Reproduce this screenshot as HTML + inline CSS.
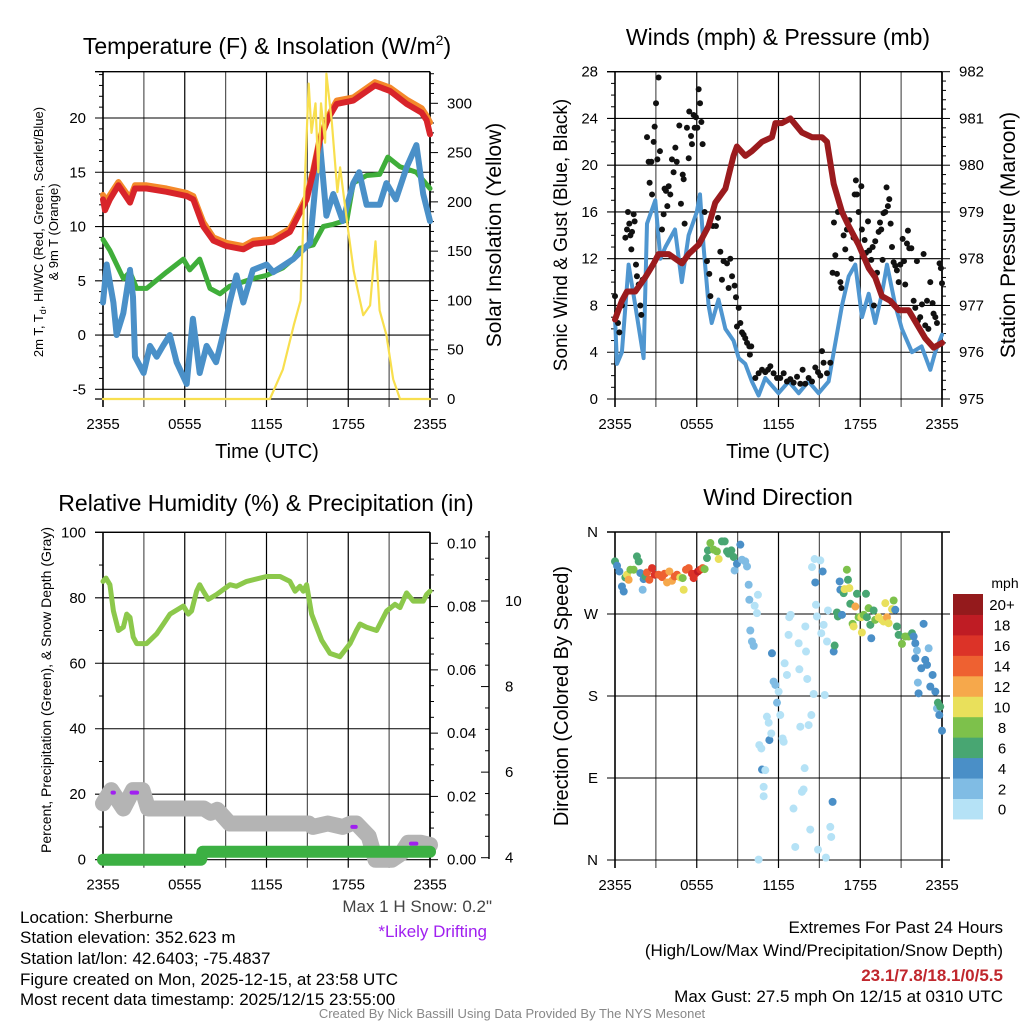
<!DOCTYPE html>
<html><head><meta charset="utf-8">
<style>
html,body{margin:0;padding:0;background:#fff;}
svg{display:block;font-family:"Liberation Sans",sans-serif;}
</style></head>
<body>
<svg id="chart" width="1024" height="1024" viewBox="0 0 1024 1024" xmlns="http://www.w3.org/2000/svg">
<rect width="1024" height="1024" fill="#fff"/>
<g id="g"></g>
<!-- titles -->
<text x="267" y="54" font-size="23" text-anchor="middle">Temperature (F) &amp; Insolation (W/m<tspan font-size="14" dy="-9">2</tspan><tspan dy="9">)</tspan></text>
<text x="778" y="45" font-size="23" text-anchor="middle">Winds (mph) &amp; Pressure (mb)</text>
<text x="266" y="511" font-size="23" text-anchor="middle">Relative Humidity (%) &amp; Precipitation (in)</text>
<text x="778" y="505" font-size="23" text-anchor="middle">Wind Direction</text>
<!-- axis titles -->
<text x="267" y="458" font-size="20" text-anchor="middle">Time (UTC)</text>
<text x="778" y="458" font-size="20" text-anchor="middle">Time (UTC)</text>
<text transform="translate(43,232) rotate(-90)" font-size="13" text-anchor="middle">2m T, T<tspan font-size="9" dy="3">d</tspan><tspan dy="-3">, HI/WC (Red, Green, Scarlet/Blue)</tspan></text>
<text transform="translate(58,232) rotate(-90)" font-size="13" text-anchor="middle">&amp; 9m T (Orange)</text>
<text transform="translate(501,235) rotate(-90)" font-size="21" text-anchor="middle">Solar Insolation (Yellow)</text>
<text transform="translate(567,235) rotate(-90)" font-size="19" text-anchor="middle">Sonic Wind &amp; Gust (Blue, Black)</text>
<text transform="translate(1015,235) rotate(-90)" font-size="21" text-anchor="middle">Station Pressure (Maroon)</text>
<text transform="translate(51,690) rotate(-90)" font-size="14" text-anchor="middle">Percent, Precipitation (Green), &amp; Snow Depth (Gray)</text>
<text transform="translate(568,696) rotate(-90)" font-size="20" text-anchor="middle">Direction (Colored By Speed)</text>
<!-- footer -->
<g font-size="17">
<text x="20" y="923">Location: Sherburne</text>
<text x="20" y="943">Station elevation: 352.623 m</text>
<text x="20" y="964">Station lat/lon: 42.6403; -75.4837</text>
<text x="20" y="985">Figure created on Mon, 2025-12-15, at 23:58 UTC</text>
<text x="20" y="1005">Most recent data timestamp: 2025/12/15 23:55:00</text>
</g>
<text x="492" y="912" font-size="17" fill="#444" text-anchor="end">Max 1 H Snow: 0.2"</text>
<text x="487" y="937" font-size="17" fill="#a020f0" text-anchor="end">*Likely Drifting</text>
<g font-size="17" text-anchor="end">
<text x="1003" y="933">Extremes For Past 24 Hours</text>
<text x="1003" y="956">(High/Low/Max Wind/Precipitation/Snow Depth)</text>
<text x="1003" y="981" fill="#c0272d" font-weight="bold">23.1/7.8/18.1/0/5.5</text>
<text x="1003" y="1002">Max Gust: 27.5 mph On 12/15 at 0310 UTC</text>
</g>
<text x="512" y="1018" font-size="13" fill="#888" text-anchor="middle">Created By Nick Bassill Using Data Provided By The NYS Mesonet</text>
</svg>
<script>
// ---------- data ----------
const xTickLabels = ["2355","0555","1155","1755","2355"];
const tempTicks = [-5,0,5,10,15,20];
const solarTicks = [0,50,100,150,200,250,300];
const windTicks = [0,4,8,12,16,20,24,28];
const presTicks = [975,976,977,978,979,980,981,982];
const rhTicks = [0,20,40,60,80,100];
const precipTicks = [0,0.02,0.04,0.06,0.08,0.10];
const snowTicks = [4,6,8,10];
const dirTicks = ["N","E","S","W","N"];

const redT = [0,.15,.51,1.13,1.98,2.35,3.2,4.67,6.14,6.63,7.36,8.1,9.05,10.3,11.03,12.5,13.72,14.46,14.94,15.43,15.92,16.54,17.15,18.37,19.96,21.06,22.28,23.38,23.75,24];
const redV = [12.5,11.5,12.5,13.8,12.2,13.5,13.5,13.2,12.8,12.5,10,8.7,8.2,7.9,8.4,8.6,9.5,11.3,12.5,15,18,20,21.3,21.6,23,22.5,21.3,20.5,19.8,18.5];
const orangeV = [12.9,12.3,12.9,14.1,12.6,13.8,13.8,13.5,13.1,12.8,10.4,9.0,8.5,8.2,8.7,8.9,9.8,11.6,12.8,15.2,18.2,20.2,21.6,21.9,23.3,22.8,21.7,20.9,20.2,19.6];
const greenT = [0,.51,1.5,1.98,2.47,3.2,4.67,5.9,6.36,7.1,7.85,8.59,9.3,11,12,13.2,13.96,14.46,15.43,16.17,16.9,17.9,18.37,19.35,20.3,20.9,21.8,23,24];
const greenV = [8.8,7.8,5.2,5.8,4.3,4.3,5.8,7,6,7,4.3,3.8,4.5,5.2,5.5,6.2,7,8,8.3,10,10.2,10.6,14,14.7,14.8,16.4,15.5,15,13.5];
const wcT = [0,.27,.76,1,1.49,1.98,2.2,2.35,2.98,3.45,3.94,4.4,4.9,5.4,6.14,6.6,7.1,7.6,8.3,8.8,9.3,9.8,10.3,11,12,12.5,13.96,15.2,15.9,16.4,16.9,17.6,18.37,18.8,19.35,20.3,20.8,21.5,22.3,23,23.5,24];
const wcV = [3,6.5,3,0,2,6,3.5,-2,-3.5,-1,-2,-1,0,-2.5,-4.5,1.5,-3.5,-1,-2.5,0,3,5.5,3,6,6.5,5.8,7,8.5,18,11,13,10.5,14,15,12,12,14,12.5,15.5,17.5,13,10.5];
const solarT = [0,12.25,13.2,14,14.5,14.75,15.1,15.3,15.6,15.8,16,16.3,16.4,16.8,17.2,17.4,18,18.4,18.7,19.1,19.6,20,20.3,20.8,21.3,21.8,24];
const solarV = [0,0,30,75,100,200,320,270,300,230,300,260,330,280,210,235,170,130,110,85,95,160,90,65,20,0,0];

const presT = [0,.51,.88,1.49,2.22,2.84,3.2,3.94,4.92,5.4,6.14,6.87,7.36,8.1,8.7,8.95,9.56,10.05,10.79,11.52,11.77,12.25,12.87,13.72,14.46,15.19,15.56,16.05,16.66,17.15,17.88,18.62,19.1,19.59,20.2,20.82,21.55,22.16,22.77,23.38,24];
const presV = [976.7,977.1,977.3,977.3,977.6,977.9,978.1,978.1,977.9,978.1,978.3,978.7,979.2,979.5,980.2,980.4,980.2,980.3,980.5,980.6,980.9,980.9,981.0,980.7,980.6,980.6,980.5,979.6,979.0,978.7,978.3,977.8,977.6,977.2,977.1,976.9,976.9,976.6,976.3,976.1,976.2];
const sonicT = [0,.15,.51,1,1.49,2.1,2.35,2.96,3.33,3.7,4.4,4.9,5.4,6,6.24,6.5,6.87,7.1,7.6,8.1,8.7,9.08,9.56,10.05,10.54,11.03,12,12.75,13.48,14.2,14.94,15.68,16.05,16.66,17.15,17.64,18.13,18.62,19.1,19.59,19.96,20.57,21.06,21.8,22.5,23.14,23.5,24];
const sonicV = [7,3,4,11.5,8,3.5,15,17,12,13,14.5,10,14,16,17.5,13,8,6.5,8.5,6,5,3.5,3,1.5,.3,1.8,.5,1.5,.5,1.5,.5,1.5,4,8,10.5,11.5,7,9,6.5,9,11.5,8,6,4,4.5,2.5,4,5.5];
const gustT = [0,.15,.22,.32,.51,.76,.88,.95,1.05,1.13,1.2,1.25,1.37,1.44,1.54,1.61,1.74,1.86,1.93,2.03,2.35,2.47,2.54,2.67,2.72,2.84,2.91,3.01,3.11,3.2,3.3,3.45,3.57,3.64,3.74,3.84,3.94,4.06,4.18,4.3,4.43,4.53,4.72,4.84,4.97,5.04,5.11,5.28,5.41,5.45,5.58,5.65,5.77,5.85,5.94,6.04,6.14,6.24,6.34,6.43,6.58,6.75,6.92,7.0,7.19,7.41,7.56,7.73,7.85,7.97,8.22,8.34,8.46,8.59,8.78,8.88,8.95,9.08,9.2,9.32,9.44,9.56,9.69,9.86,10.0,9.9,10.3,10.54,10.79,11.03,11.23,11.4,11.64,11.89,12.13,12.38,12.62,12.87,13.11,13.36,13.6,13.77,13.96,14.21,14.46,14.7,14.9,15.07,15.19,15.31,15.56,15.8,15.97,16.07,16.17,16.29,16.36,16.54,16.61,16.78,16.9,17.02,17.2,17.34,17.51,17.59,17.68,17.76,17.88,18.08,18.12,18.32,18.42,18.57,18.66,18.81,18.91,19.0,19.1,19.23,19.35,19.45,19.54,19.64,19.71,19.84,19.93,20.03,20.13,20.23,20.33,20.45,20.57,20.69,20.82,20.94,21.11,21.21,21.3,21.43,21.5,21.6,21.75,21.92,22.04,22.16,22.23,22.4,22.53,22.65,22.77,22.9,23.0,23.14,23.31,23.38,23.51,23.63,23.82,23.92,24.0];
const gustV = [8.8,7.5,6.5,5.7,8,13.8,14.5,16,15,14,12.8,14.3,15.8,15.2,11.5,10.5,9.8,8,7.2,10.2,22.4,20.3,18.5,20.3,17.5,22,23.3,25.3,20.5,27.5,21.2,14.5,15.8,18,17.8,16.5,18.2,17.5,20.5,19.4,21.5,20.3,23.4,16.7,19.2,18.8,15,23.2,20.6,24.6,22.5,21.8,24.3,23.2,24.1,23.2,26.5,25.3,23.7,21.8,16,11.8,10.7,8.8,14.8,14.8,15.5,12.6,10.2,11.8,11.6,9.5,12,10.5,9.7,8.7,6.2,7.8,6.5,5.7,5.5,5.2,4.8,4.5,4.5,3.8,1.8,2.2,2.5,2.3,2.5,2.8,2.2,1.8,1.8,2.2,1.5,1.7,1.4,1.9,1.3,2.5,1.3,1.8,1.5,2.7,2.3,2,4.1,3.1,2.2,3.1,10.8,15.1,12.3,10.7,16,10,9.5,14,12.8,14.5,15.3,12,13.8,17.5,18.7,17.5,16,18.2,14.5,13.6,12.5,15.2,12.7,11.9,13,8,13.5,10.8,14.3,15.1,14.5,11.9,15.9,16,18.1,16.5,17.1,15,13,11.7,11.4,11,10,11.5,13.7,11.8,9.8,13.3,14.4,12.9,12.9,8.4,7.8,11.8,6.7,7,8.1,12.4,6.3,8.4,6,10,8.2,7.3,7,6.5,11.6,11.2,9.9];

const rhT = [0,.22,.51,.76,1.13,1.49,1.74,1.98,2.22,2.47,3.2,3.94,4.43,4.92,5.9,6.26,6.5,6.87,7.1,7.36,7.73,8.34,9.32,9.8,10.54,12,13,13.72,14.1,14.46,14.7,14.94,15.31,15.68,16.05,16.66,17.39,18.13,18.6,18.86,19.35,20.08,20.82,21.43,21.8,22.28,22.77,23.51,23.75,24];
const rhV = [85,86,84,76,70,71,75,74,68,66,66,69,72,75,77.5,75,76,82,84,82,79.5,81,84,83.5,85,86.5,86.5,85,82,83.5,82,84,75,71,67,63,62,66,70,72,71,70,76,78,77,81.5,79,79,81,82];
const snowT = [0,.6,1.5,2.2,2.9,3.3,7.4,7.9,8.4,9.3,15.1,15.4,16.5,17.6,18.2,18.6,19.5,20.0,21.2,21.9,22.4,23.3,24];
const snowV = [5.27,5.58,5.15,5.58,5.58,5.15,5.15,5.05,5.12,4.8,4.8,4.72,4.8,4.72,4.8,4.8,4.5,3.95,3.95,4.1,4.35,4.35,4.3];
const driftStart = [.7,2.1,18.3,22.6];
const driftEnd = [.8,2.5,18.55,23.0];
const driftV = [5.52,5.52,4.72,4.33];
const precipT = [0,7.2,7.3,24];
const precipV = [0,0,0.0025,0.0025];

const dirT = [0,.15,.32,.51,.64,.76,.88,1,1.13,1.37,1.61,1.74,1.86,2.03,2.1,2.23,2.35,2.52,2.72,2.91,3.2,3.45,3.64,3.82,3.99,4.18,4.38,4.55,4.79,4.97,5.04,5.21,5.41,5.65,5.77,5.89,6.09,6.26,6.43,6.58,6.75,6.82,7,7.24,7.48,7.61,7.85,8.05,8.22,8.34,8.54,8.71,8.78,8.95,9.2,9.32,9.56,9.69,9.81,9.86,9.93,10.05,10.18,10.25,10.42,10.49,10.54,10.59,10.74,10.79,10.91,10.91,11.03,11.15,11.28,11.33,11.47,11.52,11.64,11.77,11.89,12.01,12.13,12.3,12.38,12.45,12.62,12.79,12.89,12.74,13.1,13.23,13.48,13.53,13.6,13.72,13.84,13.92,14.02,13.97,14.11,14.21,14.33,14.41,14.46,14.58,14.65,14.7,14.75,14.82,14.9,15.07,15.14,15.24,15.31,15.39,15.48,15.56,15.63,15.8,15.87,15.97,16.05,16.12,16.29,16.36,16.49,16.54,16.66,16.78,16.85,17.02,17.1,17.2,17.27,17.44,17.51,17.64,17.76,17.88,18.08,18.12,18.25,18.42,18.49,18.61,18.74,18.81,18.98,19.1,19.35,19.59,19.71,19.84,19.96,20.08,20.33,20.45,20.57,20.69,20.82,21.06,21.3,21.55,21.8,21.92,22.04,22.16,22.04,22.23,22.28,22.48,22.65,22.77,22.9,23.02,23.14,23.31,23.51,23.63,23.7,23.8,23.87,24];
const dirV = [327.7,323,316.7,300.2,294.7,310.1,313.1,307.6,318.6,318.6,333.2,327.7,314.9,296.6,308.3,311.2,315.6,307.6,320.4,313.1,313.1,310.5,314.2,304.6,316.7,306.5,311.2,313.1,310.1,309.4,296.6,318.6,320.4,314.2,309.4,314.2,316.7,318.6,320.4,319.3,331.4,339.8,347.9,340.6,338.7,330.3,349.7,349.7,338.7,336.2,339.8,332.5,317.8,325.2,346.1,329.6,327.7,322.2,302.1,285.6,251.9,239.8,235,279,270.9,291.1,0.4,126.1,122.4,99.3,80.3,70,98.6,157.3,150.7,131.6,138.9,226.9,195.8,192.1,172.7,184.8,159.1,133.4,129.8,215.9,203.1,266.5,269.1,247.1,56.5,14.3,237.9,209.3,146.3,74.8,77.4,100.8,228.8,256.3,198.7,148.1,33.4,159.1,321.5,182.2,330.3,304.6,280.1,267.3,11.4,328.8,248.9,316.7,258.1,181.1,2.6,239.8,273.9,36.3,25.3,63.8,228.8,235.4,271.7,267.3,305.7,296.6,269.1,292.9,297.3,318.6,307.6,298.4,281.2,259.2,256.3,278.2,292.2,266.5,266.5,249.7,269.1,292.2,266.5,276.4,258.1,243.4,273.9,263.6,266.5,263.6,261.8,281.9,266.5,259.9,275.3,284.8,274.6,256.3,247.1,237.2,245.3,245.3,248.9,245.3,237.9,229.9,221.4,194.7,182.9,210.4,259.2,219.6,214.1,232.4,190.3,203.1,184.8,166.4,172.7,159.1,168.3,141.9];
const dirS = [7,5,5,5,4,7,11,13,8,8,7,7,5,3,5,7,15,15,17,17,15,15,15,13,13,13,15,15,11,9,11,15,15,17,17,17,19,17,15,9,7,7,9,9,9,11,7,7,7,7,7,7,3,5,5,3,3,3,3,3,3,3,3,1,1,1,1,1,1,5,1,1,1,1,1,5,1,5,3,3,3,1,1,1,1,1,1,1,1,1,1,1,1,1,1,1,1,1,1,1,1,1,1,1,1,1,1,5,1,1,1,1,1,5,1,1,1,1,1,1,1,5,5,7,7,7,5,5,5,7,11,9,7,11,7,9,11,13,7,9,11,11,9,7,7,9,7,5,7,9,11,11,11,11,13,11,11,9,5,7,7,9,9,9,7,5,5,3,5,3,5,5,5,5,5,3,5,5,5,3,7,5,7,5];
const legendLabels = ["0","2","4","6","8","10","12","14","16","18","20+"];
const legendColors = ["#b5e2f6","#80bce4","#4a8fc7","#48a672","#7dc14b","#e9e05b","#f6a84b","#ee6131","#dc3328","#bf1c24","#941a1c"];

// ---------- helpers ----------
const NS="http://www.w3.org/2000/svg";
const root=document.getElementById('g');
function el(tag,attrs,parent){const e=document.createElementNS(NS,tag);for(const k in attrs)e.setAttribute(k,attrs[k]);(parent||root).appendChild(e);return e;}
function lin(d0,d1,r0,r1){return v=>r0+(v-d0)*(r1-r0)/(d1-d0);}
function pathD(T,V,xs,ys){return T.map((t,i)=>(i?'L':'M')+xs(t).toFixed(1)+','+ys(V[i]).toFixed(1)).join('');}
function addLine(T,V,xs,ys,color,w,name){
  const p=el('path',{d:pathD(T,V,xs,ys),fill:'none',stroke:color,'stroke-width':w,'stroke-linejoin':'round','stroke-linecap':'round'});
  
  
  return p;
}
function frame(px0,py0,py1,opts){
  const px1=px0+327;
  const xs=lin(0,24,px0,px1);
  for(let h=0;h<=24;h+=3){
    const l=el('line',{x1:xs(h),x2:xs(h),y1:py0,y2:py1+8,stroke:h%6===0?'#000':'#555','stroke-width':h===0||h===24?1.6:1.2});
    
    
  }
  xTickLabels.forEach((lab,i)=>{
    const t=el('text',{x:xs(i*6),y:py1+30,'font-size':15,'text-anchor':'middle'});t.textContent=lab;
    
    
  });
  const b=el('line',{x1:px0-8,x2:opts.gridRight||px1,y1:py0,y2:py0,stroke:'#000','stroke-width':1.4});
  
  
  return xs;
}
function hgrid(px0,px1,y,name){
  const l=el('line',{x1:px0-8,x2:px1,y1:y,y2:y,stroke:'#000','stroke-width':1.1});
  
  
}
function leftLabel(x,y,txt){
  const t=el('text',{x:x,y:y+5,'font-size':15,'text-anchor':'end'});t.textContent=txt;
  
  
}
function rightLabel(x,y,txt,size){
  const t=el('text',{x:x,y:y+5,'font-size':size||15});t.textContent=txt;
  
  
}
function rightTick(x,y,len,name){
  const l=el('line',{x1:x,x2:x+len,y1:y,y2:y,stroke:'#000','stroke-width':1});
  
  
}

// ---------- Panel 1: temperature ----------
(function(){
  const X0=103,X1=430,Y0=71.7,Y1=399;
  const xs=frame(X0,Y0,Y1,{});
  const ys=lin(-5,20,389.3,118);
  const ysR=lin(0,300,399,103.3);
  tempTicks.forEach(v=>{hgrid(X0,X1,ys(v),'temp-gridline');leftLabel(86,ys(v),String(v));});
  for(let v=-5;v<=24;v++){ if(v%5) rightTick(X0-4,ys(v),4,'temp-minor-tick'); }
  for(let v=0;v<=330;v+=10){ rightTick(X1,ysR(v),v%50?4:8,'solar-tick'); }
  solarTicks.forEach(v=>rightLabel(447,ysR(v),String(v)));
  const bl=el('line',{x1:X0-8,x2:X1,y1:Y1,y2:Y1,stroke:'#000','stroke-width':1.2});
  
  const rl=el('line',{x1:X1,x2:X1,y1:Y0,y2:Y1,stroke:'#000','stroke-width':1.4});
  
  addLine(greenT,greenV,xs,ys,'#3fae3a',5,'dewpoint-line');
  addLine(wcT,wcV,xs,ys,'#4a90c8',6,'wind-chill-line');
  addLine(redT,orangeV,xs,ys,'#f4892a',6,'temp-9m-line');
  addLine(redT,redV,xs,ys,'#d8242a',6,'temp-2m-line');
  addLine(solarT,solarV,xs,ysR,'#f8df4e',2.2,'solar-line');
})();

// ---------- Panel 2: winds ----------
(function(){
  const X0=615,X1=942,Y0=71.7,Y1=399;
  const xs=frame(X0,Y0,Y1,{});
  const ys=lin(0,28,399,71.7);
  const ysR=lin(975,982,399,71.7);
  windTicks.forEach(v=>{hgrid(X0,X1,ys(v),'wind-gridline');leftLabel(598,ys(v),String(v));});
  for(let v=0;v<=28;v++){ if(v%4) rightTick(X0-4,ys(v),4,'wind-minor-tick'); }
  for(let v=975;v<=982.001;v+=0.2){ rightTick(X1,ysR(v),Math.abs(v-Math.round(v))<0.01?8:4,'pressure-tick'); }
  presTicks.forEach(v=>rightLabel(959,ysR(v),String(v)));
  const rl=el('line',{x1:X1,x2:X1,y1:Y0,y2:Y1,stroke:'#000','stroke-width':1.4});
  
  addLine(sonicT,sonicV,xs,ys,'#4f96d0',4,'sonic-wind-line');
  gustT.forEach((t,i)=>{
    const c=el('circle',{cx:xs(t),cy:ys(gustV[i]),r:3,fill:'#111'});
    
    
  });
  addLine(presT,presV,xs,ysR,'#9b1b1e',6,'pressure-line');
})();

// ---------- Panel 3: humidity ----------
(function(){
  const X0=103,X1=430,Y0=532.3,Y1=859.7;
  const xs=frame(X0,Y0,Y1,{});
  const ys=lin(0,100,859.7,532.3);
  const ysP=lin(0,0.1,859.7,543.3);
  const ysS=lin(4,10,857.7,601);
  rhTicks.forEach(v=>{hgrid(X0,X1,ys(v),'rh-gridline');leftLabel(86,ys(v),String(v));});
  for(let v=0;v<=100;v+=10){ if(v%20) rightTick(X0-4,ys(v),4,'rh-minor-tick'); }
  for(let v=0;v<=0.1001;v+=0.005){ const m=Math.abs(v*50-Math.round(v*50))<0.01; rightTick(X1,ysP(v),m?8:4,'precip-tick'); }
  precipTicks.forEach(v=>rightLabel(447,ysP(v),v.toFixed(2)));
  const rl=el('line',{x1:X1,x2:X1,y1:Y0,y2:Y1,stroke:'#000','stroke-width':1.4});
  
  const sl=el('line',{x1:489,x2:489,y1:531,y2:859,stroke:'#000','stroke-width':1.4});
  
  for(let v=4;v<=11.6;v+=0.5){ const m=Math.abs(v-Math.round(v))<0.01&&Math.round(v)%2===0; rightTick(m?481:485,ysS(v),m?8:4,'snow-tick'); }
  snowTicks.forEach(v=>rightLabel(505,ysS(v),String(v)));
  addLine(rhT,rhV,xs,ys,'#8cc84b',5,'rh-line');
  addLine(snowT,snowV,xs,ysS,'#b4b4b4',16,'snow-depth-line');
  driftStart.forEach((s,i)=>{
    const p=el('line',{x1:xs(s),x2:xs(driftEnd[i]),y1:ysS(driftV[i]),y2:ysS(driftV[i]),stroke:'#a020f0','stroke-width':4,'stroke-linecap':'round'});
    
    
  });
  addLine(precipT,precipV,xs,ysP,'#3cb043',12,'precip-line');
})();

// ---------- Panel 4: wind direction ----------
(function(){
  const X0=615,X1=942,Y0=532,Y1=860;
  const xs=frame(X0,Y0,Y1,{gridRight:950});
  const ys=lin(0,360,860,532);
  dirTicks.forEach((lab,i)=>{hgrid(X0,950,ys(i*90),'direction-gridline');leftLabel(598,ys(i*90),lab);});
  function colorFor(s){let k=Math.floor(s/2);if(k>10)k=10;if(k<0)k=0;return legendColors[k];}
  dirT.forEach((t,i)=>{
    const c=el('circle',{cx:xs(t),cy:ys(dirV[i]),r:4,fill:colorFor(dirS[i])});
    
    
  });
  const ly0=594,lh=20.45;
  const u=el('text',{x:1005,y:588,'font-size':14,'text-anchor':'middle'});u.textContent='mph';
  
  legendLabels.forEach((lab,i)=>{
    const k=legendLabels.length-1-i;
    const y=ly0+k*lh;
    const r=el('rect',{x:953,y:y,width:30,height:lh+0.5,fill:legendColors[i]});
    
    
    const t=el('text',{x:1002,y:y+lh/2+6,'font-size':15,'text-anchor':'middle'});t.textContent=lab;
    
    
  });
})();
</script>
</body></html>
